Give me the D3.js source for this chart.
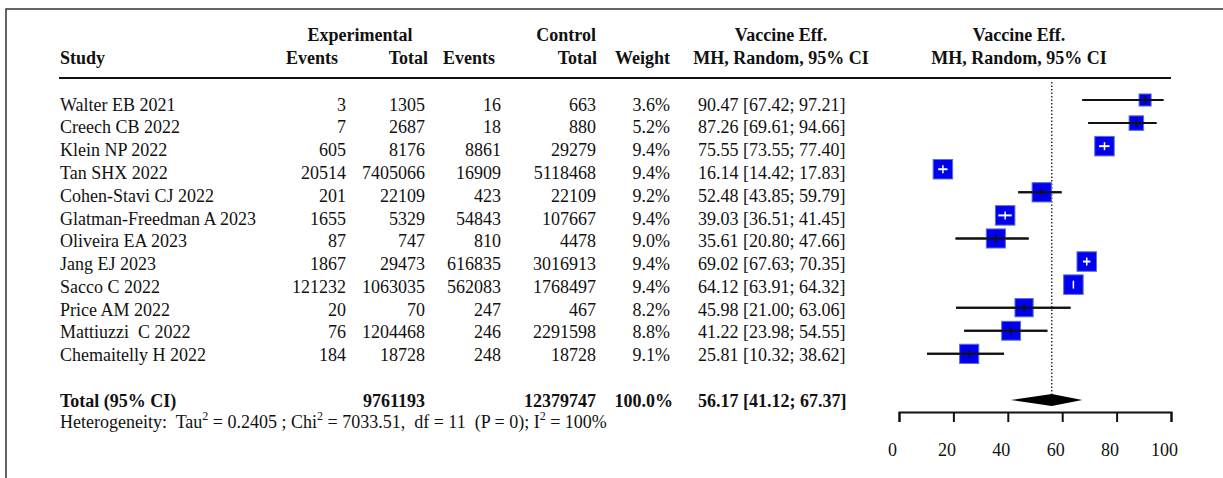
<!DOCTYPE html>
<html>
<head>
<meta charset="utf-8">
<script src="https://cdn.jsdelivr.net/npm/d3@7"></script>
<style>
  body { margin: 0; background: #fff; }
  svg text { font-family: "Liberation Serif", "Times New Roman", serif; font-size: 18px; fill: #111; white-space: pre; }
  .bold { font-weight: bold; }
</style>
</head>
<body>
<figure id="forest" style="margin:0"></figure>
<script>
// study rows
var studies = ["Walter EB 2021", "Creech CB 2022", "Klein NP 2022", "Tan SHX 2022",
  "Cohen-Stavi CJ 2022", "Glatman-Freedman A 2023", "Oliveira EA 2023", "Jang EJ 2023",
  "Sacco C 2022", "Price AM 2022", "Mattiuzzi  C 2022", "Chemaitelly H 2022"];
var expEvents = [3, 7, 605, 20514, 201, 1655, 87, 1867, 121232, 20, 76, 184];
var expTotal = [1305, 2687, 8176, 7405066, 22109, 5329, 747, 29473, 1063035, 70, 1204468, 18728];
var ctlEvents = [16, 18, 8861, 16909, 423, 54843, 810, 616835, 562083, 247, 246, 248];
var ctlTotal = [663, 880, 29279, 5118468, 22109, 107667, 4478, 3016913, 1768497, 467, 2291598, 18728];
var weights = [3.6, 5.2, 9.4, 9.4, 9.2, 9.4, 9.0, 9.4, 9.4, 8.2, 8.8, 9.1];
var ve = [90.47, 87.26, 75.55, 16.14, 52.48, 39.03, 35.61, 69.02, 64.12, 45.98, 41.22, 25.81];
var lower = [67.42, 69.61, 73.55, 14.42, 43.85, 36.51, 20.80, 67.63, 63.91, 21.00, 23.98, 10.32];
var upper = [97.21, 94.66, 77.40, 17.83, 59.79, 41.45, 47.66, 70.35, 64.32, 63.06, 54.55, 38.62];

// pooled result
var totalExp = 9761193;
var totalCtl = 12379747;
var totalWeight = 100.0;
var pooled = [56.17, 41.12, 67.37]; // estimate, lower, upper
var axisTicks = [0, 20, 40, 60, 80, 100];

var width = 1223, height = 478;

var svg = d3.select("figure#forest")
  .append("svg")
  .attr("width", width)
  .attr("height", height);

// frame (only top and left edges visible)
svg.append("path")
  .attr("d", `M6,${height}V9H${width}`)
  .attr("fill", "none")
  .attr("stroke", "#333")
  .attr("stroke-width", 1.5);

var xScale = d3.scaleLinear().domain([0, 100]).range([899, 1171]);
// square centres and text baselines sit on slightly different grids
var rowY = d3.scaleLinear().domain([0, 13]).range([100, 400]);
var textY = d3.scaleLinear().domain([0, 13]).range([110.7, 406.7]);
var boxSize = d3.scaleSqrt().domain([0, 9.4]).range([0, 19.5]);

var col = { study: 60, expEv: 346, expTot: 425, ctlEv: 501, ctlTot: 596, weight: 670, ci: 698 };

// headers
var header = svg.append("g").attr("class", "bold");
header.append("text").attr("x", 360).attr("y", 41).attr("text-anchor", "middle").text("Experimental");
header.append("text").attr("x", 596).attr("y", 41).attr("text-anchor", "end").text("Control");
header.append("text").attr("x", 781).attr("y", 41).attr("text-anchor", "middle").text("Vaccine Eff.");
header.append("text").attr("x", 1019).attr("y", 41).attr("text-anchor", "middle").text("Vaccine Eff.");
header.append("text").attr("x", col.study).attr("y", 64).text("Study");
header.append("text").attr("x", 338).attr("y", 64).attr("text-anchor", "end").text("Events");
header.append("text").attr("x", 428).attr("y", 64).attr("text-anchor", "end").text("Total");
header.append("text").attr("x", 495).attr("y", 64).attr("text-anchor", "end").text("Events");
header.append("text").attr("x", 597).attr("y", 64).attr("text-anchor", "end").text("Total");
header.append("text").attr("x", col.weight).attr("y", 64).attr("text-anchor", "end").text("Weight");
header.append("text").attr("x", 781).attr("y", 64).attr("text-anchor", "middle").text("MH, Random, 95% CI");
header.append("text").attr("x", 1019).attr("y", 64).attr("text-anchor", "middle").text("MH, Random, 95% CI");

svg.append("line")
  .attr("x1", 59).attr("x2", 1171)
  .attr("y1", 78).attr("y2", 78)
  .attr("stroke", "#111").attr("stroke-width", 2);

var rows = studies.map(function(s, i) {
  return { study: s, expEv: expEvents[i], expTot: expTotal[i], ctlEv: ctlEvents[i], ctlTot: ctlTotal[i],
    w: weights[i], est: ve[i], lo: lower[i], hi: upper[i], i: i };
});

// text columns
var rowText = svg.selectAll("g.row")
  .data(rows)
  .enter()
  .append("g")
  .attr("class", "row")
  .attr("transform", d => `translate(0,${textY(d.i)})`);

rowText.append("text").attr("x", col.study).text(d => d.study);
rowText.append("text").attr("x", col.expEv).attr("text-anchor", "end").text(d => d.expEv);
rowText.append("text").attr("x", col.expTot).attr("text-anchor", "end").text(d => d.expTot);
rowText.append("text").attr("x", col.ctlEv).attr("text-anchor", "end").text(d => d.ctlEv);
rowText.append("text").attr("x", col.ctlTot).attr("text-anchor", "end").text(d => d.ctlTot);
rowText.append("text").attr("x", col.weight).attr("text-anchor", "end").text(d => d.w.toFixed(1) + "%");
rowText.append("text").attr("x", col.ci)
  .text(d => `${d.est.toFixed(2)} [${d.lo.toFixed(2)}; ${d.hi.toFixed(2)}]`);

// total row
var tot = svg.append("g").attr("class", "bold").attr("transform", `translate(0,${textY(13)})`);
tot.append("text").attr("x", col.study).text("Total (95% CI)");
tot.append("text").attr("x", col.expTot).attr("text-anchor", "end").text(totalExp);
tot.append("text").attr("x", col.ctlTot).attr("text-anchor", "end").text(totalCtl);
tot.append("text").attr("x", 673).attr("text-anchor", "end").text(totalWeight.toFixed(1) + "%");
tot.append("text").attr("x", col.ci)
  .text(`${pooled[0].toFixed(2)} [${pooled[1].toFixed(2)}; ${pooled[2].toFixed(2)}]`);

// heterogeneity line with superscripts
var het = svg.append("text").attr("x", col.study).attr("y", textY(14) - 1);
var hetParts = [["Heterogeneity:  Tau", 0], ["2", 1], [" = 0.2405 ; Chi", 0], ["2", 1],
  [" = 7033.51,  df = 11  (P = 0); I", 0], ["2", 1], [" = 100%", 0]];
hetParts.forEach(function(p, k) {
  var prevSup = k > 0 && hetParts[k - 1][1];
  het.append("tspan")
    .attr("dy", p[1] ? -8 : (prevSup ? 8 : 0))
    .style("font-size", p[1] ? "12px" : null)
    .text(p[0]);
});

// reference line at pooled estimate
svg.append("line")
  .attr("x1", xScale(pooled[0])).attr("x2", xScale(pooled[0]))
  .attr("y1", 82).attr("y2", rowY(13) - 6)
  .attr("stroke", "#111").attr("stroke-width", 1.3)
  .attr("stroke-dasharray", "1.5,2");

// study marks
var marks = svg.selectAll("g.mark")
  .data(rows)
  .enter()
  .append("g")
  .attr("class", "mark")
  .attr("transform", d => `translate(0,${rowY(d.i)})`);

function inside(d) {
  var half = boxSize(d.w) / 2;
  return xScale(d.lo) >= xScale(d.est) - half && xScale(d.hi) <= xScale(d.est) + half;
}

marks.filter(d => !inside(d)).append("line")
  .attr("x1", d => xScale(d.lo)).attr("x2", d => xScale(d.hi))
  .attr("stroke", "#111").attr("stroke-width", 2);

marks.append("rect")
  .attr("x", d => xScale(d.est) - boxSize(d.w) / 2)
  .attr("y", d => -boxSize(d.w) / 2)
  .attr("width", d => boxSize(d.w))
  .attr("height", d => boxSize(d.w))
  .attr("fill", "#0000ee")
  .attr("stroke", "#5b6fd6")
  .attr("stroke-width", 1);

marks.append("line")
  .attr("x1", d => xScale(d.lo)).attr("x2", d => xScale(d.hi))
  .attr("stroke", d => inside(d) ? "#fff" : "#111")
  .attr("stroke-width", 2);

marks.append("line")
  .attr("x1", d => xScale(d.est)).attr("x2", d => xScale(d.est))
  .attr("y1", -4).attr("y2", 4)
  .attr("stroke", d => inside(d) ? "#fff" : "#111")
  .attr("stroke-width", 1.5);

// pooled diamond
var dy = rowY(13);
svg.append("path")
  .attr("d", `M${xScale(pooled[1])},${dy}L${xScale(pooled[0])},${dy - 6}L${xScale(pooled[2])},${dy}L${xScale(pooled[0])},${dy + 6}Z`)
  .attr("fill", "#000");

// x axis
var xAxis = svg.append("g")
  .attr("transform", "translate(0,412)")
  .call(d3.axisBottom(xScale).tickValues(axisTicks).tickSize(10).tickPadding(21).tickFormat(d3.format("d")));

xAxis.selectAll("path, line").attr("stroke", "#111").attr("stroke-width", 2);
xAxis.selectAll("text")
  .attr("dx", -7)
  .style("font-family", "'Liberation Serif', serif")
  .style("font-size", "18px")
  .attr("fill", "#111");
</script>
</body>
</html>
